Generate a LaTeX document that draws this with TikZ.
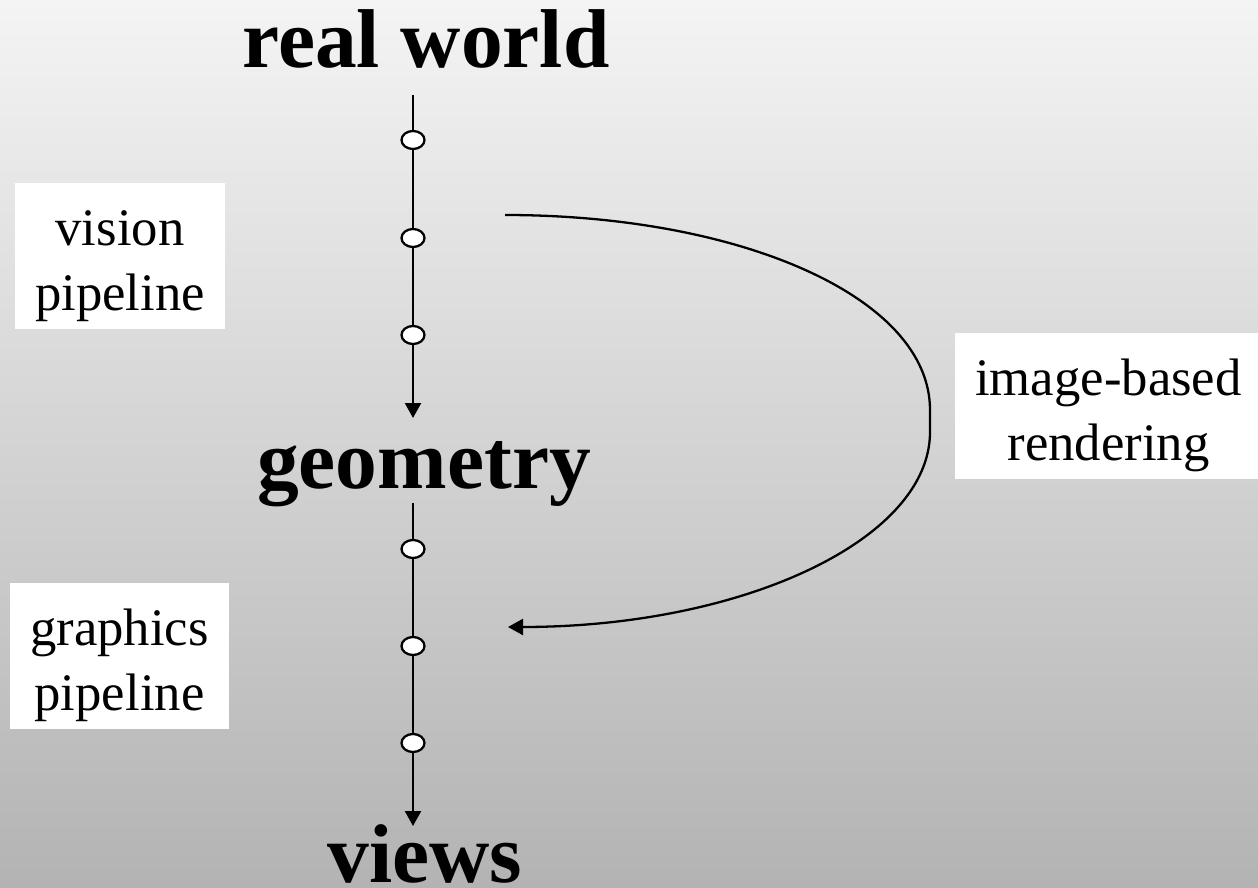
\documentclass[tikz,border=0pt]{standalone}
\usepackage{fontspec}
\setmainfont{Liberation Serif}
\usetikzlibrary{arrows.meta,positioning,shapes.geometric}
\definecolor{bgtop}{RGB}{244,244,244}
\definecolor{bgbottom}{RGB}{179,179,179}
\newcommand{\tagstrut}{\rule{0pt}{31pt}}

\begin{document}
\begin{tikzpicture}[
  x=0.02cm, y=-0.02cm,
  heading/.style={font=\bfseries\fontsize{47.5}{57}\selectfont, inner sep=0pt, anchor=base},
  tagbox/.style={fill=white, align=center, inner xsep=0.4cm, minimum height=2.92cm,
    font=\fontsize{30}{37}\selectfont},
  stage/.style={draw, ellipse, fill=white, line width=1.3pt, minimum width=0.46cm, minimum height=0.36cm, inner sep=0pt},
  pipe/.style={line width=1.3pt},
  arr/.style={line width=1.3pt, -{Triangle[length=3mm,width=3.2mm]}}
]
\shade[top color=bgtop, bottom color=bgbottom] (0,0) rectangle (1258,888);
\useasboundingbox (0,0) rectangle (1258,888);

% headings
\node[heading] (world) at (426,68) {real world};
\node[heading] (geom) at (424,488) {geometry};
\node[heading] (views) at (425,882) {views};

% side labels
\node[tagbox] (vision) at (120,256) {\tagstrut vision\\pipeline};
\node[tagbox] (graphics) at (119.5,656) {\tagstrut graphics\\pipeline};
\node[tagbox] (ibr) at (1108.5,406) {\tagstrut image-based\\rendering};

% vision pipeline
\coordinate (world-out) at (413,95);
\coordinate (geom-in) at (413,418);
\node[stage] (v1) at (413,140) {};
\node[stage] (v2) at (413,238) {};
\node[stage] (v3) at (413,335) {};
\draw[pipe] (world-out) -- (v1) -- (v2) -- (v3);
\draw[arr] (v3) -- (geom-in);

% graphics pipeline
\coordinate (geom-out) at (413,503);
\coordinate (views-in) at (413,826);
\node[stage] (g1) at (413,549) {};
\node[stage] (g2) at (413,646) {};
\node[stage] (g3) at (413,743) {};
\draw[pipe] (geom-out) -- (g1) -- (g2) -- (g3);
\draw[arr] (g3) -- (views-in);

% image-based rendering shortcut
\coordinate (ibr-start) at (505,215);
\coordinate (ibr-up) at (930,410);
\coordinate (ibr-down) at (930,432);
\coordinate (ibr-end) at (508,627);
\draw[arr] (ibr-start) .. controls (740,215) and (930,297) .. (ibr-up)
  -- (ibr-down) .. controls (930,540) and (742,627) .. (ibr-end);
\end{tikzpicture}
\end{document}
